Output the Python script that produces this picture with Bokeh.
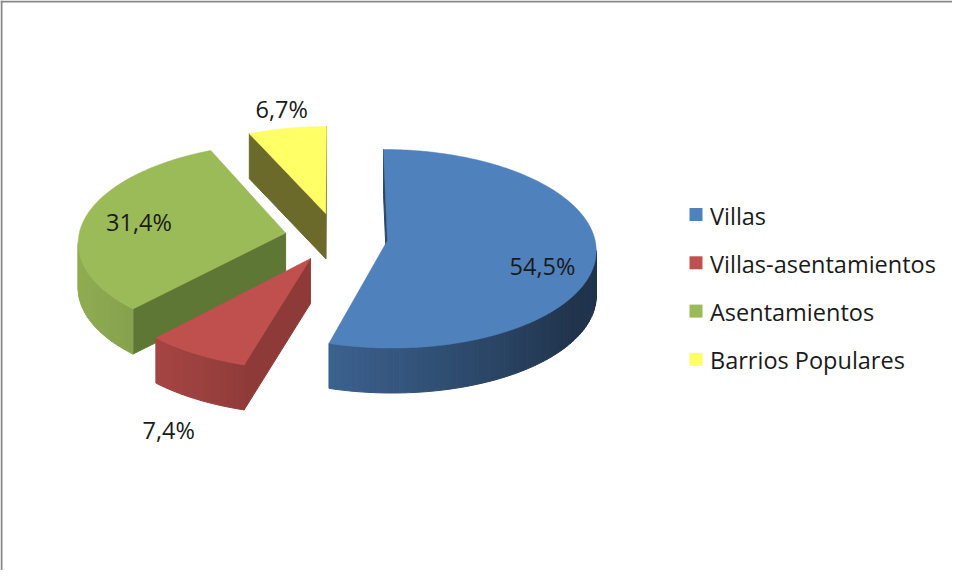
import numpy as np
from bokeh.plotting import figure
from bokeh.models import Range1d
from bokeh.embed import file_html
from bokeh.resources import INLINE
from bokeh.core.properties import value

# ---- data ----
categories = ["Villas", "Villas-asentamientos", "Asentamientos", "Barrios Populares"]
shares = [54.5, 7.4, 31.4, 6.7]

# ---- style ----
top_colors = ["#4F81BD", "#C0504D", "#9BBB59", "#FFFF66"]
radial_colors = ["#2B4768", "#8E3A38", "#5F7735", "#6B6A2B"]
label_r = [0.77, 1.27, 0.73, 1.25]
label_shift = [11.5, -1.5, 0.0, 0.8]
label_outside = [False, True, False, True]

W, H = 952, 570
FONT = "Open Sans"
FONT_SIZE = "23.5px"

# projection parameters (pixels)
E = 0.249      # explosion (fraction of radius)
KX, KY = 207.0, 98.0
D = 12.0       # perspective distance
T = 45.0       # pie thickness
CX, CY = 335.8, 236.5


def proj(u, v, h=0.0):
    u = np.asarray(u, dtype=float)
    v = np.asarray(v, dtype=float)
    s = D / (D + v)
    return CX + KX * u * s, CY - KY * v * s + h


def shade(hexc, f):
    hexc = hexc.lstrip("#")
    rgb = [int(hexc[i:i + 2], 16) for i in (0, 2, 4)]
    return "#%02x%02x%02x" % tuple(max(0, min(255, int(round(c * f)))) for c in rgb)


def area(xs, ys):
    xs = list(xs); ys = list(ys)
    n = len(xs)
    return sum(xs[i] * ys[(i + 1) % n] - xs[(i + 1) % n] * ys[i] for i in range(n))


p = figure(width=W, height=H, x_range=Range1d(0, W), y_range=Range1d(H, 0),
           output_backend="svg", toolbar_location=None, min_border=0,
           x_axis_type=None, y_axis_type=None, outline_line_color=None)
p.background_fill_color = "white"
p.border_fill_color = "white"

total = float(sum(shares))
slices = []
acc = 0.0
for i, sv in enumerate(shares):
    a0 = acc / total * 360.0
    acc += sv
    a1 = acc / total * 360.0
    m = 0.5 * (a0 + a1)
    u0 = E * np.sin(np.radians(m))
    v0 = E * np.cos(np.radians(m))
    slices.append(dict(i=i, a0=a0, a1=a1, m=m, u0=u0, v0=v0))

# far slices first
order = sorted(slices, key=lambda s: -s["v0"])

for s in order:
    i, a0, a1, u0, v0 = s["i"], s["a0"], s["a1"], s["u0"], s["v0"]

    def pt(theta, h=0.0, r=1.0):
        t = np.radians(theta)
        return proj(u0 + r * np.sin(t), v0 + r * np.cos(t), h)

    ax_t, ay_t = proj(u0, v0, 0.0)
    ax_b, ay_b = proj(u0, v0, T)

    side_xs, side_ys, side_cols = [], [], []
    # radial faces
    for ang, is_start in ((a0, True), (a1, False)):
        ox_t, oy_t = pt(ang, 0.0)
        ox_b, oy_b = pt(ang, T)
        xs = [float(ax_t), float(ox_t), float(ox_b), float(ax_b)]
        ys = [float(ay_t), float(oy_t), float(oy_b), float(ay_b)]
        ar = area(xs, ys)
        if (is_start and ar < 0) or ((not is_start) and ar > 0):
            side_xs.append(xs); side_ys.append(ys); side_cols.append(radial_colors[i])
    # curved side
    n = max(4, int(np.ceil((a1 - a0) / 1.5)))
    th = np.linspace(a0, a1, n + 1)
    for k in range(n):
        x1, y1 = pt(th[k]); x2, y2 = pt(th[k + 1])
        x3, y3 = pt(th[k + 1], T); x4, y4 = pt(th[k], T)
        xs = [float(x1), float(x2), float(x3), float(x4)]
        ys = [float(y1), float(y2), float(y3), float(y4)]
        if area(xs, ys) < 0:
            tm = 0.5 * (th[k] + th[k + 1])
            f = max(0.40, 0.62 + 0.30 * np.cos(np.radians(tm - 260.0)))
            side_xs.append(xs); side_ys.append(ys); side_cols.append(shade(top_colors[i], f))
    if side_xs:
        p.patches(side_xs, side_ys, fill_color=side_cols, line_color=side_cols, line_width=1)

    # top face
    tx, ty = pt(np.linspace(a0, a1, max(6, int(np.ceil(a1 - a0)) + 1)))
    p.patch([float(ax_t)] + list(tx), [float(ay_t)] + list(ty),
            fill_color=top_colors[i], line_color=top_colors[i], line_width=0.5)

# data labels
lx, ly, lt = [], [], []
for s in slices:
    i = s["i"]
    ang = np.radians(s["m"] + label_shift[i])
    r = label_r[i]
    h = T if (label_outside[i] and np.cos(ang) < 0) else 0.0
    x, y = proj(s["u0"] + r * np.sin(ang), s["v0"] + r * np.cos(ang), h)
    lx.append(float(x)); ly.append(float(y))
    lt.append(("%.1f" % shares[i]).replace(".", ",") + "%")
p.text(lx, ly, text=lt, text_font=value(FONT), text_font_size=FONT_SIZE,
       text_align="center", text_baseline="middle", text_color="#1a1a1a")

# legend
LEG_X, LEG_Y0, LEG_DY = 695.5, 214.0, 48.3
leg_y = [LEG_Y0 + k * LEG_DY for k in range(len(categories))]
p.rect([LEG_X] * len(categories), leg_y, width=13, height=13,
       fill_color=top_colors, line_color=None)
p.text([LEG_X + 14] * len(categories), [y + 1 for y in leg_y], text=categories,
       text_font=value(FONT), text_font_size=FONT_SIZE, text_align="left",
       text_baseline="middle", text_color="#1a1a1a")

# chart-area frame (top and left edges visible)
p.line([1, 1], [0, H], line_color="#878787", line_width=2)
p.line([0, W], [1, 1], line_color="#878787", line_width=2)

open("out.html", "w").write(file_html(p, INLINE))
